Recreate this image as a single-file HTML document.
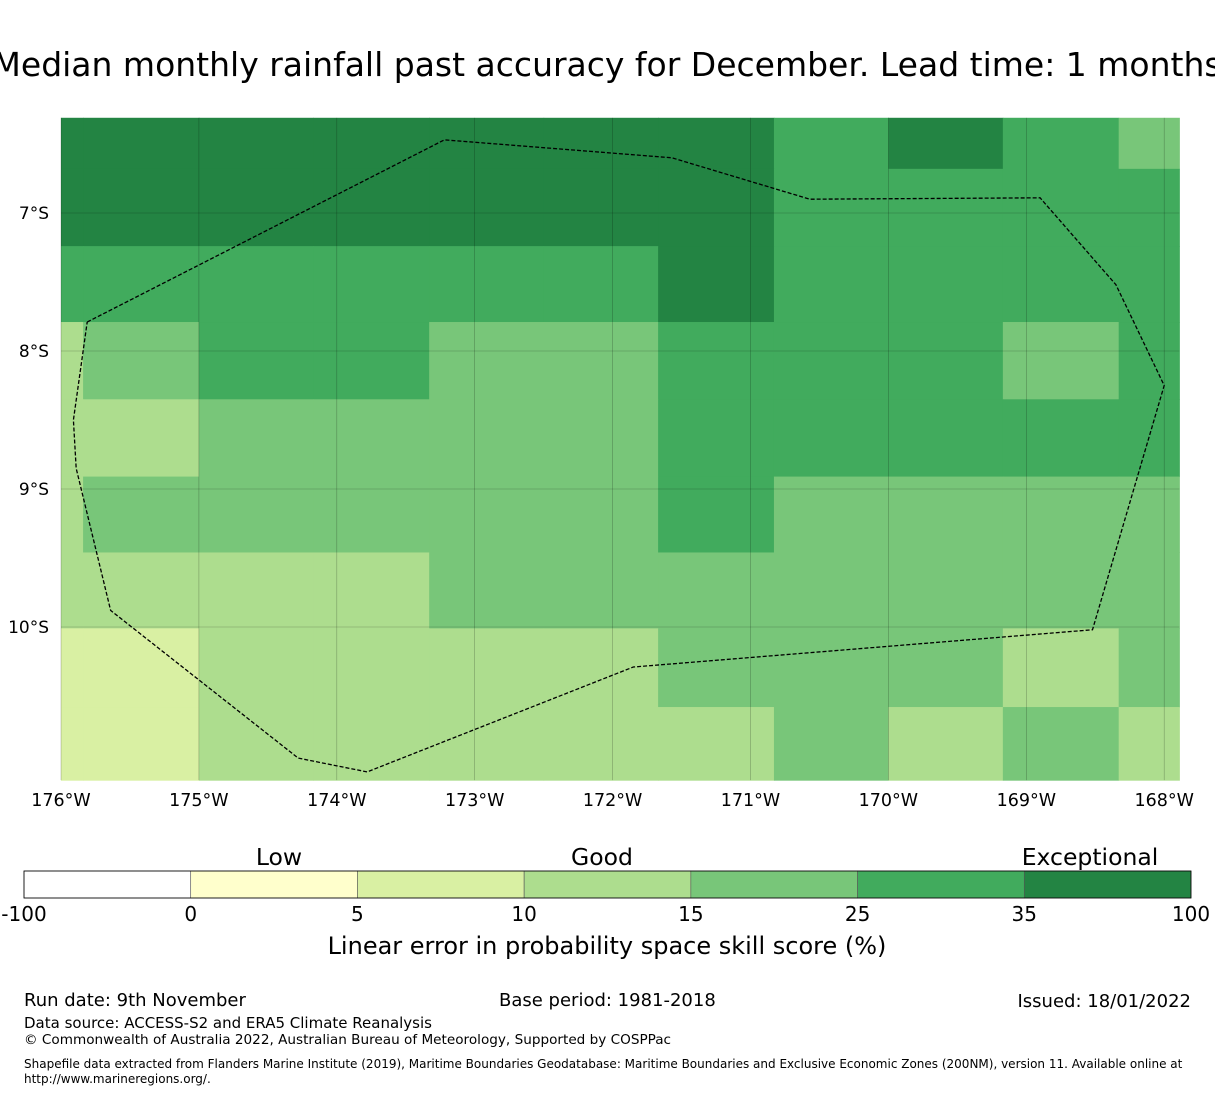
<!DOCTYPE html>
<html><head><meta charset="utf-8"><style>
body{margin:0;background:#fff;font-family:"DejaVu Sans","Liberation Sans",sans-serif;}
#wrap{position:relative;width:1215px;height:1095px;overflow:hidden;}
.t{position:absolute;white-space:nowrap;color:#000;}
</style></head><body>
<div id="wrap">
<div class="t" style="left:607px;top:45px;font-size:33px;transform:translateX(-50%);">Median monthly rainfall past accuracy for December. Lead time: 1 months</div>
<svg id="map" width="1215" height="1095" style="position:absolute;left:0;top:0"></svg>
<div class="t" style="left:24px;top:990px;font-size:18px">Run date: 9th November</div>
<div class="t" style="left:499px;top:990px;font-size:18px">Base period: 1981-2018</div>
<div class="t" style="right:24px;top:991px;font-size:18px">Issued: 18/01/2022</div>
<div class="t" style="left:24px;top:1014px;font-size:15px">Data source: ACCESS-S2 and ERA5 Climate Reanalysis</div>
<div class="t" style="left:24px;top:1032px;font-size:13.6px">© Commonwealth of Australia 2022, Australian Bureau of Meteorology, Supported by COSPPac</div>
<div class="t" style="left:24px;top:1057px;font-size:12px;line-height:15px">Shapefile data extracted from Flanders Marine Institute (2019), Maritime Boundaries Geodatabase: Maritime Boundaries and Exclusive Economic Zones (200NM), version 11. Available online at<br>http://www.marineregions.org/.</div>
</div>
<script>
const colors=["#ffffff","#ffffcc","#d9f0a3","#addd8e","#78c679","#41ab5d","#238443"];
const colEdgesLon=[-176,-175.84,-175.0,-174.17,-173.33,-172.5,-171.67,-170.83,-170.0,-169.17,-168.33,-167.89];
const rowEdgesLat=[-6.31,-6.68,-7.24,-7.79,-8.35,-8.91,-9.46,-10.01,-10.58,-11.11];
const cells=[
[6,6,6,6,6,6,6,5,6,5,4],
[6,6,6,6,6,6,6,5,5,5,5],
[5,5,5,5,5,5,6,5,5,5,5],
[3,4,5,5,4,4,5,5,5,4,5],
[3,3,4,4,4,4,5,5,5,5,5],
[3,4,4,4,4,4,5,4,4,4,4],
[3,3,3,3,4,4,4,4,4,4,4],
[2,2,3,3,3,3,4,4,4,3,4],
[2,2,3,3,3,3,3,4,3,4,3]];
const lonTicks=[-176,-175,-174,-173,-172,-171,-170,-169,-168];
const lonLabels=["176°W","175°W","174°W","173°W","172°W","171°W","170°W","169°W","168°W"];
const latTicks=[-7,-8,-9,-10];
const latLabels=["7°S","8°S","9°S","10°S"];
const boundary=[[-175.81,-7.79],[-173.22,-6.47],[-171.57,-6.60],[-170.57,-6.90],[-168.90,-6.89],[-168.35,-7.52],[-168.0,-8.25],[-168.52,-10.02],[-171.85,-10.29],[-173.78,-11.05],[-174.28,-10.95],[-175.64,-9.88],[-175.89,-8.85],[-175.91,-8.50],[-175.81,-7.79]];
const cbBounds=["-100","0","5","10","15","25","35","100"];
const cbCats=[0,1,2,3,4,5,6];
const NS="http://www.w3.org/2000/svg";
const svg=document.getElementById('map');
const X=lon=>61+(lon+176)*137.9;
const Y=lat=>213+(-7-lat)*138;
function mk(t,a){const e=document.createElementNS(NS,t);for(const k in a)e.setAttribute(k,a[k]);svg.appendChild(e);return e;}
for(let r=0;r<cells.length;r++)for(let c=0;c<cells[r].length;c++){
 const x0=X(colEdgesLon[c]),x1=X(colEdgesLon[c+1]),y0=Y(rowEdgesLat[r]),y1=Y(rowEdgesLat[r+1]);
 const e=mk('rect',{x:x0,y:y0,width:x1-x0+0.5,height:y1-y0+0.5,fill:colors[cells[r][c]]});
 
 
}
const L=X(-176),R=X(-167.89),T=Y(-6.31),B=Y(-11.11);
lonTicks.forEach((v,i)=>{
 const g=mk('line',{x1:X(v),x2:X(v),y1:T,y2:B,stroke:'#000','stroke-opacity':0.3,'stroke-width':0.6});
 
 const t=mk('text',{x:X(v),y:806,'font-size':17.5,'text-anchor':'middle','font-family':'DejaVu Sans, sans-serif'});
 t.textContent=lonLabels[i];
 
});
latTicks.forEach((v,i)=>{
 const g=mk('line',{x1:L,x2:R,y1:Y(v),y2:Y(v),stroke:'#000','stroke-opacity':0.3,'stroke-width':0.6});
 
 const t=mk('text',{x:49,y:Y(v)+6,'font-size':17,'text-anchor':'end','font-family':'DejaVu Sans, sans-serif'});
 t.textContent=latLabels[i];
 
});
const p=mk('polyline',{points:boundary.map(d=>X(d[0])+','+Y(d[1])).join(' '),fill:'none',stroke:'#000','stroke-width':1.3,'stroke-dasharray':'4,2'});

const cbL=24,cbR=1191,cbT=871,cbH=27,w=(cbR-cbL)/cbCats.length;
cbCats.forEach((c,i)=>{
 const e=mk('rect',{x:cbL+i*w,y:cbT,width:w,height:cbH,fill:colors[c],stroke:'#555','stroke-width':0.6});
 
});
const o=mk('rect',{x:cbL,y:cbT,width:cbR-cbL,height:cbH,fill:'none',stroke:'#000','stroke-width':0.8});

cbBounds.forEach((s,i)=>{
 const t=mk('text',{x:cbL+i*w,y:921,'font-size':20,'text-anchor':'middle','font-family':'DejaVu Sans, sans-serif'});
 t.textContent=s;
});
[["Low",279],["Good",602],["Exceptional",1090]].forEach(d=>{
 const t=mk('text',{x:d[1],y:865,'font-size':23.5,'text-anchor':'middle','font-family':'DejaVu Sans, sans-serif'});
 t.textContent=d[0];
});
const at=mk('text',{x:607,y:954,'font-size':24,'text-anchor':'middle','font-family':'DejaVu Sans, sans-serif'});
at.textContent="Linear error in probability space skill score (%)";

</script>
</body></html>
